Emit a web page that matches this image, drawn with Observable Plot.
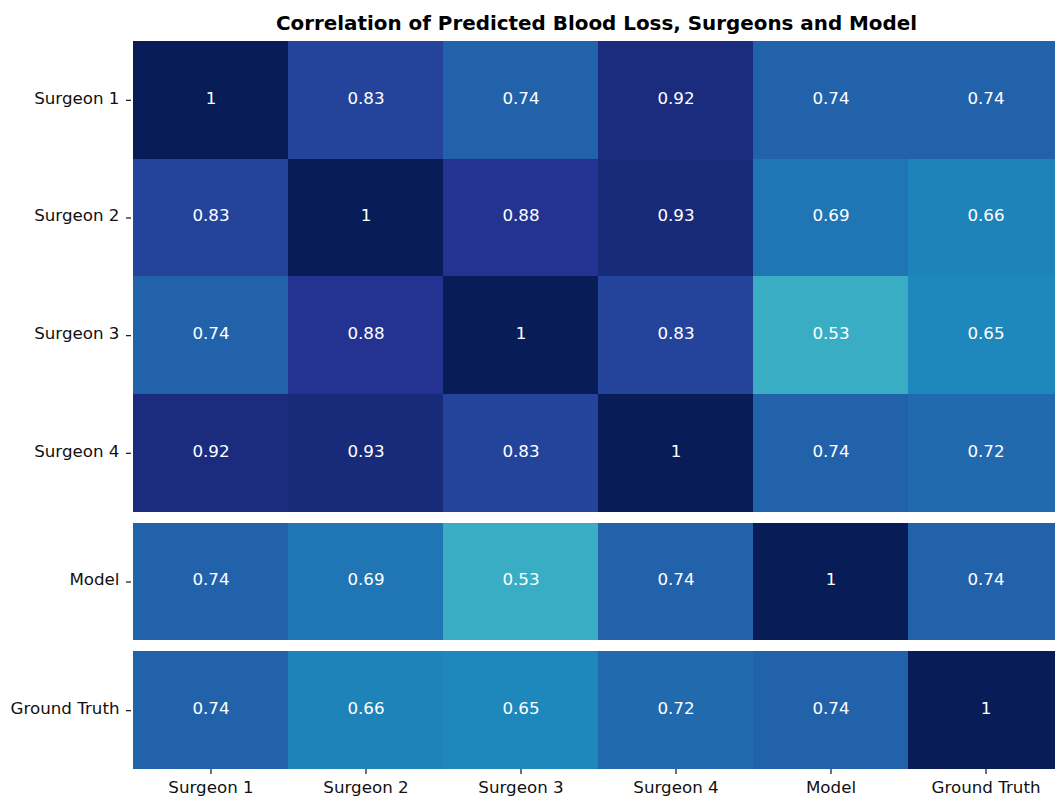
<!DOCTYPE html>
<html>
<head>
<meta charset="utf-8">
<script src="https://cdn.jsdelivr.net/npm/d3@7"></script>
<script src="https://cdn.jsdelivr.net/npm/@observablehq/plot@0.6"></script>
<style>
  html, body { margin: 0; background: #fff; font-family: "DejaVu Sans", sans-serif; overflow: hidden; }
  #wrap { width: 1055px; height: 797px; overflow: hidden; position: relative; }
  #title { height: 41px; width: 931px; margin-left: 131px; text-align: center;
           font: bold 19.9px "DejaVu Sans", sans-serif; color: #000; line-height: 48px; white-space: nowrap; }
  #chart { width: 1055px; overflow: hidden; }
  #chart svg { display: block; max-width: none !important; width: 1064px !important; height: 756px !important; }
</style>
</head>
<body>
<div id="wrap">
<div id="title">Correlation of Predicted Blood Loss, Surgeons and Model</div>
<div id="chart"></div>
</div>
<script>
// ---- data ----
const labels = ["Surgeon 1", "Surgeon 2", "Surgeon 3", "Surgeon 4", "Model", "Ground Truth"];
const rowGroup = [0, 0, 0, 0, 1, 2]; // separated blocks of rows
const surgeon1 = [1, 0.83, 0.74, 0.92, 0.74, 0.74];
const surgeon2 = [0.83, 1, 0.88, 0.93, 0.69, 0.66];
const surgeon3 = [0.74, 0.88, 1, 0.83, 0.53, 0.65];
const surgeon4 = [0.92, 0.93, 0.83, 1, 0.74, 0.72];
const model = [0.74, 0.69, 0.53, 0.74, 1, 0.74];
const groundTruth = [0.74, 0.66, 0.65, 0.72, 0.74, 1];
const matrix = [surgeon1, surgeon2, surgeon3, surgeon4, model, groundTruth];
const ylgnbu = ["#ffffd9", "#edf8b1", "#c7e9b4", "#7fcdbb", "#41b6c4", "#1d91c0", "#225ea8", "#253494", "#081d58"];

// ---- layout helpers ----
const gap = 11 / 117.5; // white gap between blocks, in row units
const rowTop = i => i + rowGroup[i] * gap;
const total = labels.length + rowGroup[rowGroup.length - 1] * gap;

const cells = [];
matrix.forEach((row, i) => row.forEach((v, j) => cells.push({
  row: labels[i], col: labels[j], value: v,
  y1: rowTop(i), y2: rowTop(i) + 1, yc: rowTop(i) + 0.5
})));
const yTicks = labels.map((_, i) => rowTop(i) + 0.5);

const fs = 16.7;
const chart = Plot.plot({
  width: 1064,
  height: 756,
  marginTop: 0,
  marginBottom: 28,
  marginLeft: 131,
  marginRight: 0,
  style: { fontFamily: "DejaVu Sans, sans-serif", fontSize: fs + "px", color: "#111", background: "#fff", maxWidth: "none" },
  x: { type: "band", domain: labels, padding: 0, label: null },
  y: { type: "linear", domain: [total, 0], label: null },
  color: { type: "linear", domain: d3.range(9).map(i => i / 8), range: ylgnbu, interpolate: "rgb" },
  marks: [
    Plot.barY(cells, { x: "col", y1: "y1", y2: "y2", fill: "value", inset: 0, shapeRendering: "crispEdges" }),
    Plot.text(cells, { x: "col", y: "yc", text: d => d3.format("")(d.value), fill: "white", fontSize: fs, dy: -2 }),
    Plot.axisY(yTicks, { text: null, tickSize: 5, stroke: "#111", strokeWidth: 1.2 }),
    Plot.axisY(yTicks, { tickFormat: (d, i) => labels[i], tickSize: 0, tickPadding: 12, fontSize: fs, dy: -2, fill: "#111" }),
    Plot.axisX({ tickSize: 5, tickPadding: 7, fontSize: fs, stroke: "#111", strokeWidth: 1.2, fill: "#111" })
  ]
});
document.getElementById("chart").appendChild(chart);
</script>
</body>
</html>
